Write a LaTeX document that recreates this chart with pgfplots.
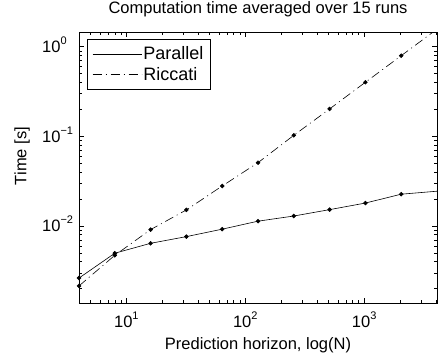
\documentclass[border=0pt]{standalone}
\usepackage{fontspec}
\setmainfont{Liberation Sans}
\usepackage{pgfplots}
\pgfplotsset{compat=1.18}
\newcommand\tsup[1]{\raisebox{8pt}{\fontsize{11}{12}\selectfont #1}}
\begin{document}
\begin{tikzpicture}
\begin{axis}[
  scale only axis,
  width=358pt, height=271pt,
  xmode=log, ymode=log,
  xmin=4, xmax=4096,
  ymin=0.00138, ymax=1.459,
  font=\fontsize{16.5}{19}\selectfont,
  axis line style={line width=0.6pt},
  tick align=inside,
  major tick length=5.5pt,
  minor tick length=3pt,
  every tick/.style={black, line width=0.5pt},
  log number format basis/.code 2 args={\pgfmathtruncatemacro\myexp{#2}10\tsup{\ifnum\myexp<0 −\the\numexpr-\myexp\relax\else\myexp\fi}},
  xticklabel style={inner sep=0pt, anchor=north, yshift=-9pt},
  yticklabel style={inner sep=0pt, anchor=base west, xshift=-37pt, yshift=-6pt},
  title={Computation time averaged over 15 runs},
  title style={at={(axis description cs:0.5,1.0469)}, anchor=base, inner sep=0pt},
  xlabel={Prediction horizon, log(N)},
  xlabel style={at={(axis description cs:0.5,-0.1734)}, anchor=base, inner sep=0pt},
  ylabel={Time [s]},
  ylabel style={at={(axis description cs:-0.159,0.5424)}, anchor=center, rotate=0, inner sep=0pt},
  legend style={at={(axis description cs:0.0223,0.974)}, anchor=north west, draw=black, line width=0.6pt, fill=white,
    inner xsep=5pt, inner ysep=6pt, row sep=3pt, font=\fontsize{18}{20}\selectfont,
    nodes={inner sep=1.5pt}},
  legend cell align=left,
  legend image code/.code={\draw[#1] (4pt,0pt) -- (53pt,0pt);},
]
\addplot[black, line width=0.6pt, mark=*, mark size=1.9pt, mark indices={1,...,10}] coordinates {
(4,0.00262) (8,0.00496) (16,0.0064) (32,0.0076) (64,0.0092) (128,0.0113)
(256,0.0129) (512,0.0152) (1024,0.0180) (2048,0.0226) (4096,0.0244)
};
\addlegendentry{Parallel}
\addplot[black, line width=0.6pt, dash pattern=on 9pt off 4pt on 1pt off 4pt, mark=*, mark size=1.9pt, mark options={solid}, mark indices={1,...,10}] coordinates {
(4,0.00214) (8,0.0047) (16,0.0091) (32,0.0151) (64,0.0279) (128,0.0508)
(256,0.1026) (512,0.202) (1024,0.401) (2048,0.794) (4096,1.57)
};
\addlegendentry{Riccati}
\coordinate (bbSW) at (rel axis cs:-0.2207,-0.2103);
\coordinate (bbNE) at (rel axis cs:1.0028,1.1181);
\end{axis}
\pgfresetboundingbox
\path[use as bounding box] (bbSW) rectangle (bbNE);
\end{tikzpicture}
\end{document}
